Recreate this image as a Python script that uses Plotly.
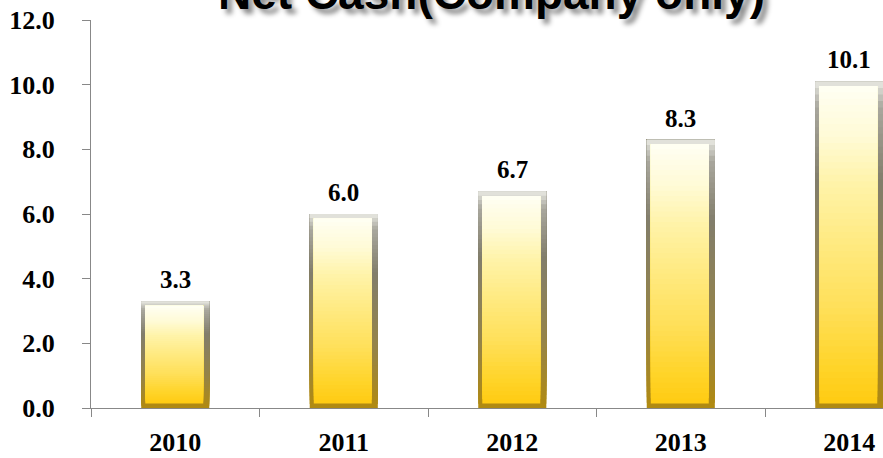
import plotly.graph_objects as go
import numpy as np

years = ["2010", "2011", "2012", "2013", "2014"]
net_cash = [3.3, 6.0, 6.7, 8.3, 10.1]
title_text = "Net Cash(Company only)"
y_tick_vals = [0, 2, 4, 6, 8, 10, 12]
y_tick_text = ["0.0", "2.0", "4.0", "6.0", "8.0", "10.0", "12.0"]

# inner face gradient (fraction from bottom -> color)
face_pos = [0.0, 0.1, 0.3, 0.5, 0.7, 0.85, 1.0]
face_rgb = [(255, 204, 20), (255, 212, 40), (255, 224, 90), (255, 234, 128),
            (255, 244, 170), (255, 251, 215), (255, 255, 242)]
# bevel/edge gradient
edge_pos = [0.0, 0.3, 0.7, 0.93, 1.0]
edge_rgb = [(176, 138, 18), (150, 132, 72), (130, 126, 108), (170, 168, 158), (225, 225, 218)]


def grad_color(t, pos, rgb):
    r = np.interp(t, pos, [c[0] for c in rgb])
    g = np.interp(t, pos, [c[1] for c in rgb])
    b = np.interp(t, pos, [c[2] for c in rgb])
    return f"rgb({int(r)},{int(g)},{int(b)})"


vals = np.array(net_cash)
bar_w = 0.404
left_bev = 0.024
right_bev = 0.036
bev_v = 0.14
inner_w = bar_w - left_bev - right_bev
N = 50
fig = go.Figure()
# outer (bevel) bars
for k in range(N):
    t = k / (N - 1)
    fig.add_trace(go.Bar(
        x=years, y=vals * (1 - k / N), base=vals * k / N,
        width=bar_w, marker=dict(color=grad_color(t, edge_pos, edge_rgb), line=dict(width=0)),
        showlegend=False, hoverinfo="skip"))
# inner face bars
inner_h = vals - 2 * bev_v
for k in range(N):
    t = k / (N - 1)
    fig.add_trace(go.Bar(
        x=years, y=inner_h * (1 - k / N), base=bev_v + inner_h * k / N,
        width=inner_w, offset=-bar_w / 2 + left_bev,
        marker=dict(color=grad_color(t, face_pos, face_rgb), line=dict(width=0)),
        showlegend=False, hoverinfo="skip"))

for i, v in enumerate(net_cash):
    fig.add_annotation(x=i, y=v, xref="x", yref="y", text=f"{v:.1f}", showarrow=False,
                       yanchor="bottom", yshift=6,
                       font=dict(family="Liberation Serif", size=25, color="black", weight="bold"))

fig.add_annotation(xref="paper", yref="paper", x=0.506, y=1, text=title_text,
                   showarrow=False, yanchor="bottom", yshift=-1,
                   font=dict(family="Liberation Sans", size=46, color="black", weight="bold",
                             shadow="5px 5px 5px rgba(0,0,0,0.45)"))

fig.update_layout(
    width=883, height=458,
    margin=dict(l=91, r=0, t=20, b=50, autoexpand=False),
    paper_bgcolor="white", plot_bgcolor="white",
    barmode="overlay", showlegend=False,
    xaxis=dict(type="category", range=[-0.5, 4.2], tickson="boundaries",
               ticks="outside", ticklen=8, tickcolor="#888", showline=True,
               linecolor="#888", linewidth=1, showgrid=False, ticklabelstandoff=11,
               tickfont=dict(family="Liberation Serif", size=26, color="black", weight="bold")),
    yaxis=dict(range=[0, 12], tickvals=y_tick_vals, ticktext=y_tick_text,
               ticks="outside", ticklen=8, tickcolor="#888", showline=True,
               linecolor="#888", linewidth=1, showgrid=False, zeroline=False,
               ticklabelstandoff=22,
               tickfont=dict(family="Liberation Serif", size=26, color="black", weight="bold")),
)

fig.write_html("out.html", config={"displayModeBar": False},
               post_script="document.body.style.margin='0';document.body.style.overflow='hidden';")
